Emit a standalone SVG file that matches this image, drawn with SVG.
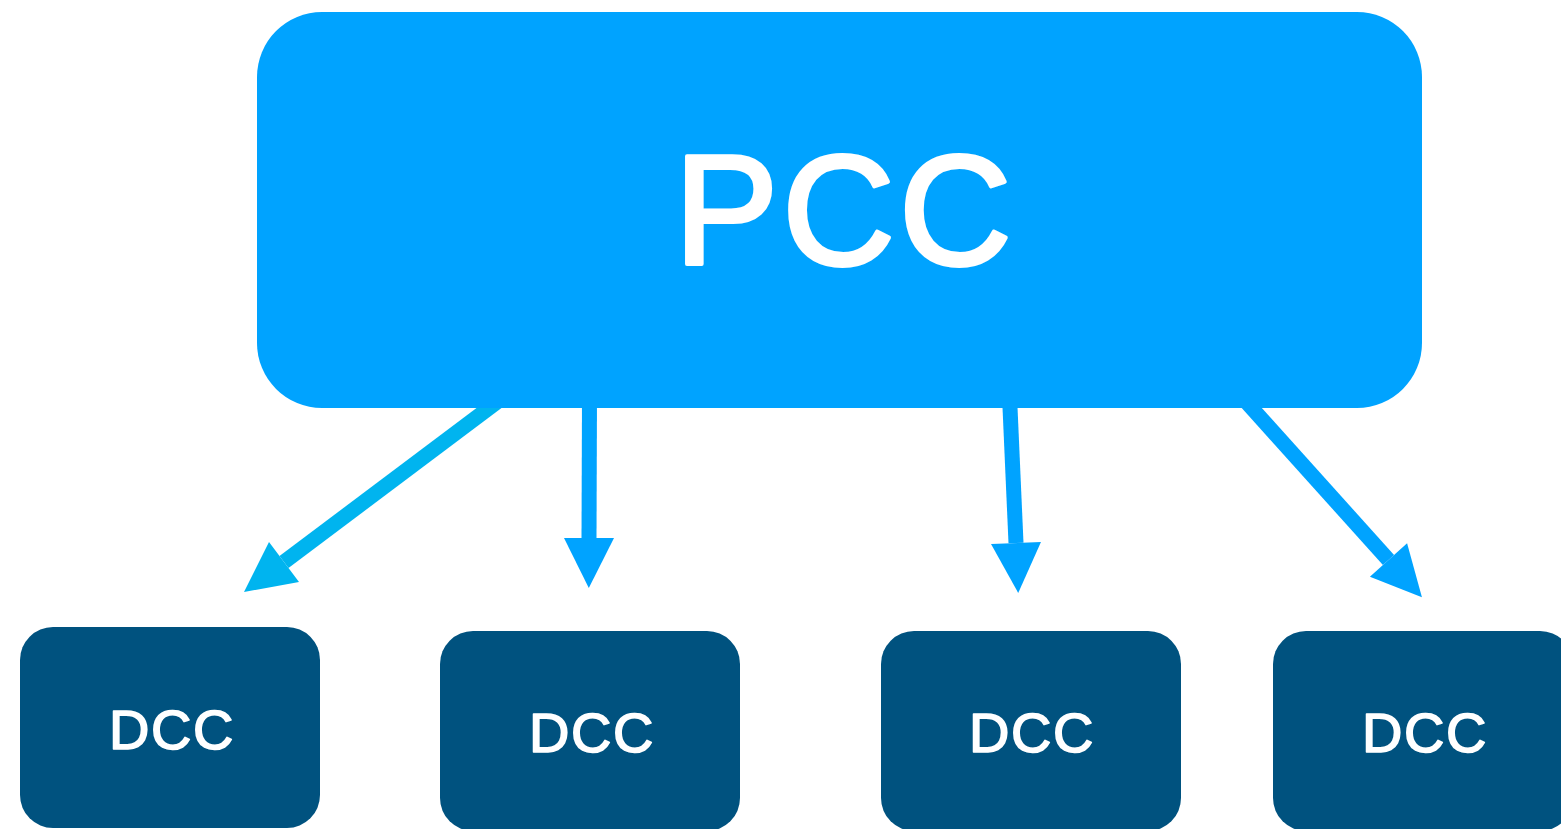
<svg xmlns="http://www.w3.org/2000/svg" width="1561" height="829" viewBox="0 0 1561 829">
  <style>
    .pcc { fill: #00A3FF; }
    .dcc { fill: #00527F; }
    .lbl { fill: #FFFFFF; stroke: #FFFFFF; stroke-linejoin: round; font-family: "Liberation Sans", Arial, sans-serif; text-anchor: middle; }
    .big { font-size: 156px; stroke-width: 4; letter-spacing: 4px; }
    .small { font-size: 56px; stroke-width: 1.6; letter-spacing: 1.5px; }
    .conn { stroke: #00A3FF; stroke-width: 15; fill: none; marker-end: url(#head); }
    .conn.alt { stroke: #00B4EF; marker-end: url(#headAlt); }
  </style>
  <defs>
    <marker id="head" markerUnits="userSpaceOnUse" markerWidth="60" markerHeight="60" refX="0" refY="0" orient="auto" overflow="visible">
      <path d="M0,-25 L50,0 L0,25 Z" fill="#00A3FF"/>
    </marker>
    <marker id="headAlt" markerUnits="userSpaceOnUse" markerWidth="60" markerHeight="60" refX="0" refY="0" orient="auto" overflow="visible">
      <path d="M0,-25 L50,0 L0,25 Z" fill="#00B4EF"/>
    </marker>
  </defs>
  <rect width="1561" height="829" fill="#FFFFFF"/>
  <g id="connectors">
    <line class="conn alt" x1="505" y1="396" x2="284" y2="562"/>
    <line class="conn" x1="589.5" y1="396" x2="589" y2="538"/>
    <line class="conn" x1="1009.5" y1="396" x2="1016" y2="543"/>
    <line class="conn" x1="1241" y1="396" x2="1388.5" y2="560"/>
  </g>
  <g id="pcc">
    <rect class="pcc" x="257" y="12" width="1165" height="396" rx="65" ry="65"/>
    <text class="lbl big" x="845" y="264">PCC</text>
  </g>
  <g id="dcc1">
    <rect class="dcc" x="20" y="627" width="300" height="201" rx="33" ry="33"/>
    <text class="lbl small" x="172" y="749">DCC</text>
  </g>
  <g id="dcc2">
    <rect class="dcc" x="440" y="631" width="300" height="200" rx="33" ry="33"/>
    <text class="lbl small" x="592" y="752">DCC</text>
  </g>
  <g id="dcc3">
    <rect class="dcc" x="881" y="631" width="300" height="200" rx="33" ry="33"/>
    <text class="lbl small" x="1032" y="752">DCC</text>
  </g>
  <g id="dcc4">
    <rect class="dcc" x="1273" y="631" width="300" height="200" rx="33" ry="33"/>
    <text class="lbl small" x="1425" y="752">DCC</text>
  </g>
</svg>
